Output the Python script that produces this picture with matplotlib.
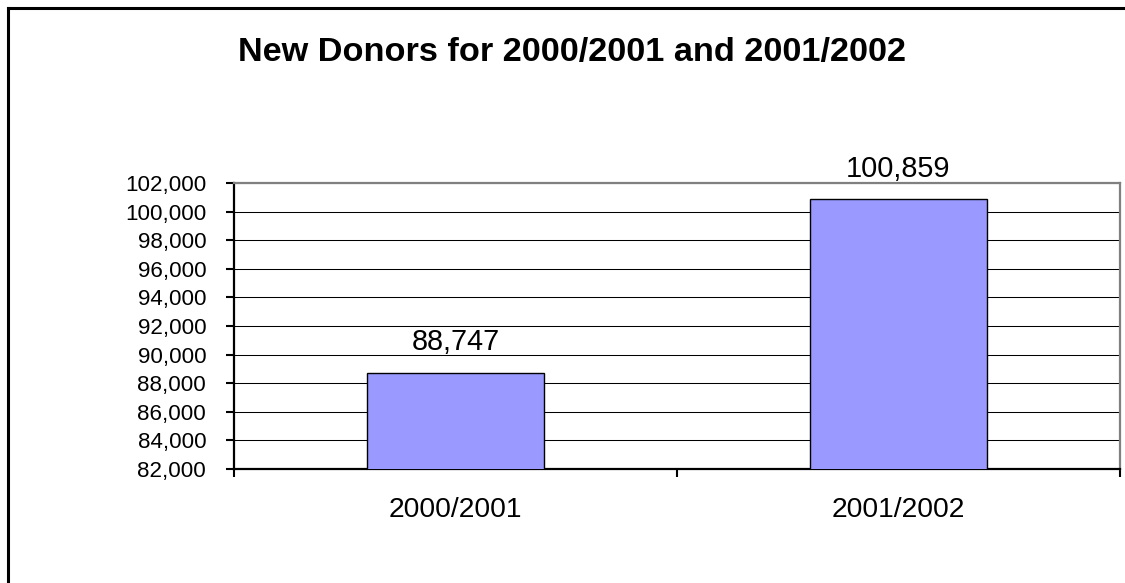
import matplotlib
matplotlib.use("Agg")
import matplotlib.pyplot as plt
from matplotlib.lines import Line2D
from matplotlib.ticker import FuncFormatter

plt.rcParams["font.family"] = ["Liberation Sans", "DejaVu Sans"]

# data
categories = ["2000/2001", "2001/2002"]
new_donors = [88747, 100859]
y_ticks = list(range(82000, 102001, 2000))

fig = plt.figure(figsize=(11.25, 5.83), dpi=100)
ax = fig.add_axes([234 / 1125, 1 - 469 / 583, (1120 - 234) / 1125, (469 - 183) / 583])

x = list(range(len(categories)))
bars = ax.bar(x, new_donors, width=0.4, color="#9999FF", edgecolor="black",
              linewidth=1.0, zorder=3)

for xi, v in zip(x, new_donors):
    ax.annotate(f"{v:,}", (xi, v), xytext=(0, 16), textcoords="offset points",
                ha="center", va="baseline", fontsize=20.8)

ax.set_ylim(y_ticks[0], y_ticks[-1])
ax.set_xlim(-0.5, len(categories) - 0.5)
ax.set_yticks(y_ticks)
ax.yaxis.set_major_formatter(FuncFormatter(lambda v, p: f"{int(v):,}"))
ax.yaxis.grid(True, color="black", linewidth=0.75, zorder=0)
ax.set_axisbelow(True)
ax.tick_params(axis="y", direction="out", length=6, width=1.5, pad=14,
               labelsize=16.1)

ax.set_xticks(x)
ax.set_xticklabels(categories)
ax.set_xticks([i - 0.5 for i in range(len(categories) + 1)], minor=True)
ax.tick_params(axis="x", which="major", length=0, pad=20, labelsize=20.3)
ax.tick_params(axis="x", which="minor", direction="out", length=6, width=1.5)

for side in ("left", "bottom"):
    ax.spines[side].set_color("black")
    ax.spines[side].set_linewidth(1.6)
for side in ("top", "right"):
    ax.spines[side].set_color("#808080")
    ax.spines[side].set_linewidth(1.6)

fig.text(572 / 1125, 1 - 53 / 583, "New Donors for 2000/2001 and 2001/2002",
         ha="center", va="center", fontsize=24.7, fontweight="bold")

# outer chart border (cut off on the right and bottom)
bx, by = 8 / 1125, 1 - 8 / 583
fig.add_artist(Line2D([bx, bx], [0, by], transform=fig.transFigure,
                      color="black", linewidth=2.2))
fig.add_artist(Line2D([bx, 1], [by, by], transform=fig.transFigure,
                      color="black", linewidth=2.2))

fig.savefig("out.png", dpi=100)
